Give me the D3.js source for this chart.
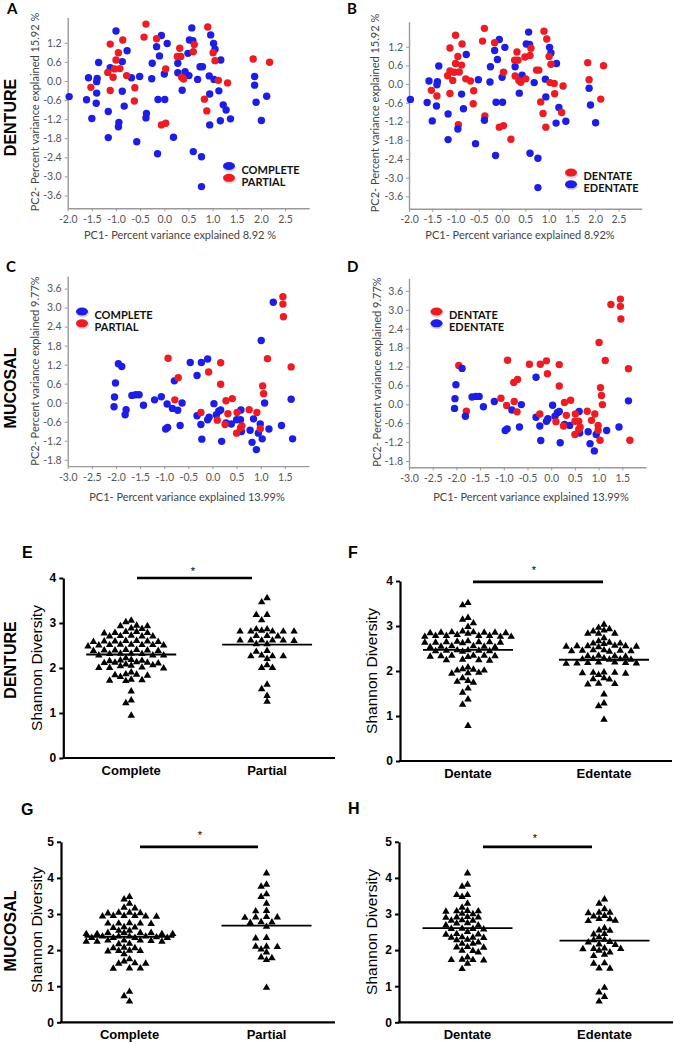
<!DOCTYPE html>
<html><head><meta charset="utf-8">
<script src="https://cdn.jsdelivr.net/npm/d3@7"></script>
<style>body{margin:0;background:#fff;} svg{display:block;}</style>
</head><body>
<svg id="c" width="674" height="1044"></svg>
<script>
// ---------------- DATA ----------------
// Denture PCA (panels A, B): 68 complete-denture samples then 35 partial-denture samples
const denturePC1 = [
 -1.97,-1.00,0.57,-0.06,0.06,-0.16,-0.77,-0.87,-1.12,-1.36,
 -1.57,-1.39,-1.40,-1.61,-1.40,-1.41,-1.50,-1.16,-0.87,-0.83,
 -0.94,-0.95,-1.16,-0.68,-0.51,-0.26,-0.25,-0.10,-0.37,-0.38,
 -0.57,-0.13,0.01,0.00,-0.14,0.19,0.28,0.28,0.37,0.43,
 0.51,0.49,0.52,0.59,0.69,0.74,0.79,0.96,1.02,1.05,
 1.17,0.93,1.03,0.94,1.13,1.22,1.28,1.16,1.37,0.94,
 0.60,0.77,0.77,1.87,1.87,1.90,2.12,2.01,
 -0.38,-0.42,-0.16,0.90,-1.12,-0.86,-0.95,-1.00,-0.92,-1.03,
 -1.17,-1.06,-0.78,-1.52,-1.12,-0.61,-0.62,0.03,0.32,0.27,
 0.34,0.36,0.40,0.62,0.60,1.01,1.05,1.12,1.31,0.83,
 0.88,-0.06,0.03,1.84,2.18];
const denturePC2 = [
 -0.49,1.57,1.67,1.43,1.18,1.08,0.95,0.61,0.42,0.58,
 0.10,0.08,-0.02,-0.59,-0.38,-0.70,-1.18,-0.96,-0.32,-0.79,
 -1.30,-1.44,-1.78,0.10,0.14,0.07,0.56,0.79,-1.02,-1.16,
 -1.91,-0.58,-0.58,0.22,-2.29,-1.77,0.56,0.26,-0.29,0.29,
 0.17,0.87,1.29,1.27,0.05,0.45,0.45,1.45,1.18,1.00,
 0.66,0.16,0.05,-0.41,-0.31,-0.75,-0.91,-1.25,-1.19,-1.38,
 -2.22,-2.38,-3.32,0.14,-0.13,-0.67,-0.48,-1.24,
 1.79,1.38,1.33,1.70,1.16,1.29,0.89,0.66,0.39,0.38,
 0.27,0.12,0.17,-0.20,-0.30,-0.21,-0.63,0.38,1.03,0.77,
 0.77,0.12,0.06,1.15,0.92,0.89,0.64,0.02,-0.06,-0.57,
 -0.94,-1.38,-1.33,0.69,0.59];
const dentureType = [
 "CCCCCCCCCC","CCCCCCCCCC","CCCCCCCCCC","CCCCCCCCCC","CCCCCCCCCC","CCCCCCCCCC","CCCCCCCC",
 "PPPPPPPPPP","PPPPPPPPPP","PPPPPPPPPP","PPPPP"].join("").split("");
const dentureStatus = [
 "EDEEEEEDDE","EEEEDEEEEE","DEEDEEEEDE","EEEEEDEDEE","DDEEEDDDEE","EEDEDEDEED","EEEDEEDE",
 "DDDDDDDDDD","DDDDDDDDDD","DDDDDDDDDD","DDDDD"].join("").split("");

// Mucosal PCA (panels C, D): 55 complete then 26 partial
const mucosalPC1 = [
 -2.03,-2.04,-2.01,-1.95,-1.88,-1.79,-1.81,-1.67,-1.59,-1.52,
 -1.43,-1.20,-1.06,-0.94,-0.83,-0.72,-0.63,-0.79,-0.97,-0.93,
 -0.67,-0.46,-0.32,-0.23,-0.10,-0.32,-0.24,-0.22,-0.10,-0.07,
 0.03,0.08,0.13,0.17,0.19,0.28,0.39,0.50,0.59,0.58,
 0.60,0.78,0.85,0.82,0.91,0.95,0.99,1.03,1.01,1.08,
 1.17,1.43,1.63,1.66,1.26,
 1.46,1.46,1.47,-0.92,-0.71,-0.78,-0.08,0.17,0.17,-0.24,
 0.10,0.28,0.41,0.32,0.26,0.51,0.58,0.61,0.50,0.76,
 0.92,1.04,1.06,0.99,1.14,1.63];
const mucosalPC2 = [
 0.18,-0.13,0.62,1.23,1.14,-0.22,-0.38,0.23,0.25,0.25,
 -0.08,0.09,0.19,-0.04,-0.18,-0.24,-0.01,0.69,-0.83,-0.78,
 -0.72,1.27,0.86,1.27,1.38,-0.41,-0.69,-1.15,-0.54,-0.46,
 -0.03,-0.38,-0.27,-0.23,-1.22,-0.64,-0.67,-0.54,-0.23,-0.54,
 -0.91,-0.87,-0.51,-1.25,-1.48,-0.96,-0.67,-1.14,1.96,-0.01,
 -0.83,-0.72,0.11,-1.14,3.17,
 3.34,3.11,2.71,1.40,0.79,0.09,0.97,1.26,0.58,-0.31,
 -0.55,0.06,0.13,-0.35,-0.69,-0.31,-0.80,-0.73,-0.96,-0.22,
 -0.31,0.53,0.28,-0.82,1.39,1.13];
const mucosalType = [
 "CCCCCCCCCC","CCCCCCCCCC","CCCCCCCCCC","CCCCCCCCCC","CCCCCCCCCC","CCCCC",
 "PPPPPPPPPP","PPPPPPPPPP","PPPPPP"].join("").split("");
const mucosalStatus = [
 "EEEDEDEEEE","EEDDEDEDEE","EDEDDEEEEE","EEEEEEEDED","EEDEEEDDDD","EEEDD",
 "DDDDDDDDDD","DDDDDDDDDD","DDDDDD"].join("").split("");

const dentureXTicks = [-2.0,-1.5,-1.0,-0.5,0.0,0.5,1.0,1.5,2.0,2.5];
const dentureYTicks = [-3.6,-3.0,-2.4,-1.8,-1.2,-0.6,0.0,0.6,1.2];
const mucosalXTicks = [-3.0,-2.5,-2.0,-1.5,-1.0,-0.5,0.0,0.5,1.0,1.5];
const mucosalYTicks = [-1.8,-1.2,-0.6,0.0,0.6,1.2,1.8,2.4,3.0,3.6];

// Shannon diversity (panels E-H)
const dentureComplete = [2.96,2.95,3.07,2.90,2.89,2.95,3.04,
 2.72,2.80,2.74,2.82,2.72,2.80,2.73,2.82,2.72,2.79,
 2.60,2.52,2.61,2.53,2.62,2.54,2.61,2.53,2.62,2.54,2.61,2.53,2.60,2.52,2.50,
 2.30,2.42,2.34,2.41,2.33,2.42,2.30,2.40,2.33,2.41,2.34,2.41,2.30,2.40,2.24,
 2.15,2.18,2.12,2.20,2.14,2.17,2.13,2.19,2.14,
 2.08,2.02,2.07,2.01,2.06,2.02,2.10,2.03,
 1.87,1.86,1.82,1.85,1.88,1.92,1.75,1.74,1.76,1.73,1.50,1.30,1.24,0.96];
const denturePartial = [3.57,3.48,3.20,3.20,3.08,2.88,2.83,2.83,2.83,2.83,2.83,2.85,2.88,
 2.73,2.73,2.72,2.63,2.63,2.62,2.63,2.63,2.63,2.55,2.55,2.40,2.38,2.28,2.28,2.28,2.30,2.22,
 2.08,2.02,2.02,1.65,1.55,1.40,1.27];
const dentureDentate = [3.53,3.48,3.20,3.16,3.08,3.00,2.87,2.88,2.86,2.90,2.87,2.86,2.88,2.87,2.85,
 2.80,2.80,2.78,2.80,2.82,2.78,2.80,2.78,2.66,2.65,2.67,2.65,2.68,2.66,2.64,2.65,2.66,
 2.56,2.55,2.57,2.55,2.57,2.56,2.46,2.48,2.47,2.45,2.47,2.48,2.46,
 2.35,2.36,2.34,2.36,2.35,2.33,2.36,2.26,2.25,2.27,2.26,
 2.06,1.98,2.10,2.03,2.03,2.05,1.96,1.97,1.86,1.78,1.80,1.76,1.63,1.54,1.39,1.27,0.80];
const dentureEdentate = [3.05,2.98,2.92,2.90,2.95,2.85,2.85,2.85,2.75,2.68,2.65,2.63,2.63,2.62,
 2.57,2.57,2.56,2.57,2.56,2.58,2.55,2.47,2.46,2.48,2.47,2.46,2.48,2.45,
 2.35,2.30,2.36,2.34,2.35,2.28,2.27,2.29,2.28,2.27,2.20,2.19,2.21,2.20,2.19,2.21,2.18,
 1.98,1.93,1.99,1.97,1.98,1.96,1.86,1.84,1.83,1.73,1.72,1.74,1.50,1.30,1.24,0.94];
const mucosalComplete = [3.50,3.43,3.31,3.20,3.18,3.06,3.05,3.06,3.04,2.97,2.96,2.97,2.95,2.96,2.97,
 2.76,2.76,2.75,2.77,2.76,2.65,2.66,2.64,2.56,2.56,2.50,2.47,2.50,2.47,2.50,2.47,2.50,2.47,
 2.40,2.36,2.40,2.36,2.40,2.36,2.40,2.36,2.38,2.29,2.26,2.29,2.26,2.29,2.26,2.28,2.19,2.20,
 2.08,2.09,2.08,2.00,2.01,1.99,2.00,1.91,1.77,1.65,1.65,1.66,1.71,1.52,1.51,1.52,0.87,0.75,0.60];
const mucosalPartial = [4.15,3.84,3.78,3.57,3.50,3.31,3.11,3.10,2.93,2.94,2.92,2.93,2.80,2.79,2.78,
 2.67,2.36,2.35,2.12,2.11,2.12,2.04,1.96,1.82,1.80,1.75,0.98];
const mucosalDentate = [4.15,3.84,3.78,3.55,3.55,3.50,3.31,3.20,3.10,3.10,3.11,3.09,3.03,3.02,
 2.93,2.93,2.94,2.92,2.84,2.85,2.84,2.76,2.77,2.71,2.71,2.61,2.62,2.60,2.61,2.53,2.46,2.47,2.45,
 2.37,2.38,2.36,2.37,2.30,2.31,2.24,2.20,2.20,2.10,2.11,2.09,2.00,2.01,1.96,1.82,1.75,1.76,1.74,1.75,1.65,1.50];
const mucosalEdentate = [3.43,3.31,3.16,3.06,3.05,3.06,2.97,2.96,2.88,2.89,2.84,2.83,2.63,2.56,2.57,
 2.47,2.46,2.38,2.31,2.30,2.24,2.25,2.17,2.18,2.06,2.07,2.05,2.06,2.01,1.90,1.86,1.96,1.65,1.66,
 1.52,1.51,0.98,0.85,0.73,0.60];
// central lines
const centralLines = {E:[2.30,2.52], F:[2.47,2.25], G:[2.37,2.68], H:[2.61,2.26]};
const prosthesisCats = ["Complete","Partial"];
const statusCats = ["Dentate","Edentate"];
const shannonTicks4 = [0,1,2,3,4];
const shannonTicks5 = [0,1,2,3,4,5];

// ---------------- DRAW ----------------
const BLUE = "#1d1de3", RED = "#ec1c24";
const svg = d3.select("#c");
const ARIAL = "'Liberation Sans', Arial, sans-serif";
const CAL = "Lato, 'Open Sans', sans-serif";

function drawPCA(p){
  const g = svg.append("g");
  const x = d3.scaleLinear().domain(p.xDomain).range(p.xRange);
  const y = d3.scaleLinear().domain(p.yDomain).range(p.yRange);
  const fmt = d => d.toFixed(1);
  const gx = g.append("g").attr("transform",`translate(0,${p.yRange[0]})`)
    .call(d3.axisBottom(x).tickValues(p.xTicks).tickFormat(fmt).tickSize(3).tickSizeOuter(0).tickPadding(4));
  const gy = g.append("g").attr("transform",`translate(${p.xRange[0]},0)`)
    .call(d3.axisLeft(y).tickValues(p.yTicks).tickFormat(fmt).tickSize(3).tickSizeOuter(0).tickPadding(3));
  [gx,gy].forEach(a=>{
    a.select(".domain").attr("stroke","#9a9a9a").attr("stroke-width",1.4);
    a.selectAll(".tick line").attr("stroke","#9a9a9a");
    a.selectAll("text").attr("fill","#555").style("font-family",CAL).style("font-size","10.5px");
  });
  const idx = d3.range(p.pc1.length);
  g.append("g").selectAll("circle").data(idx).join("circle")
    .attr("cx",i=>x(p.pc1[i])).attr("cy",i=>y(p.pc2[i])).attr("r",3.7)
    .attr("fill",i=>p.colors[p.groups[i]]);
  g.append("text").attr("x",p.xTitle[0]).attr("y",p.xTitle[1]).attr("text-anchor","middle")
    .style("font-family",CAL).style("font-size","11px").attr("fill","#444").text(p.xLabel);
  g.append("text").attr("transform",`translate(${p.yTitle[0]},${p.yTitle[1]}) rotate(-90)`).attr("text-anchor","middle")
    .style("font-family",CAL).style("font-size","11px").attr("fill","#444").text(p.yLabel);
  p.legend.forEach((l,i)=>{
    const cx = p.legendPos[0], cy = p.legendPos[1] + i*11.8;
    g.append("ellipse").attr("cx",cx+0.5).attr("cy",cy+1.8).attr("rx",6.5).attr("ry",4.2).attr("fill","#c8c8c8").attr("opacity",0.7);
    g.append("ellipse").attr("cx",cx).attr("cy",cy).attr("rx",6).attr("ry",4).attr("fill",p.colors[l[1]]);
    g.append("text").attr("x",cx+12.5).attr("y",cy+7.8).style("font-family",CAL).style("font-weight","bold")
      .style("font-size","11px").attr("fill","#111").text(l[0]);
  });
  g.append("text").attr("x",p.letter[0]).attr("y",p.letter[1]).style("font-family",CAL).style("font-weight","bold")
    .style("font-size","15px").attr("fill","#000").text(p.id);
}

// Prism-like column scatter: slots every half symbol width; neighbours in adjacent slots
// may share a row only if their heights differ a little.
function swarmX(vals, cx, y){
  const order = d3.range(vals.length).sort((a,b)=>vals[b]-vals[a]);
  const placed = []; const out = new Array(vals.length);
  const step = 5.4;
  order.forEach(i=>{
    const py = y(vals[i]);
    for(let k=0;k<60;k++){
      const off = (k%2===0?1:-1)*Math.ceil(k/2)*step;
      const px = cx+off;
      const hit = placed.some(q=>{
        const adx = Math.abs(q[0]-px), ady = Math.abs(q[1]-py);
        return (adx < 2 && ady < 5.5) || (adx < 7 && ady < 1.3);
      });
      if(!hit){ placed.push([px,py]); out[i]=px; break; }
    }
  });
  return out;
}

function drawSwarm(p){
  const g = svg.append("g");
  const x = d3.scalePoint().domain(p.cats).range([p.axisX,p.xEnd]).padding(0.5);
  const y = d3.scaleLinear().domain([0,p.yMax]).range([p.y0,p.yTop]);
  const ga = g.append("g").attr("transform",`translate(${p.axisX},0)`)
    .call(d3.axisLeft(y).tickValues(p.ticks).tickFormat(d3.format("d")).tickSize(4).tickSizeOuter(0).tickPadding(3));
  ga.select(".domain").attr("stroke","#000").attr("stroke-width",2.2);
  ga.selectAll(".tick line").attr("stroke","#000").attr("stroke-width",2);
  ga.selectAll("text").attr("fill","#000").style("font-family",ARIAL).style("font-weight","bold").style("font-size","12px");
  g.append("line").attr("x1",p.axisX-1).attr("x2",p.xEnd).attr("y1",p.y0).attr("y2",p.y0).attr("stroke","#000").attr("stroke-width",2.2);
  p.cats.forEach((c,ci)=>{
    g.append("text").attr("x",x(c)).attr("y",p.catY).attr("text-anchor","middle").style("font-family",ARIAL)
      .style("font-weight","bold").style("font-size","13px").attr("fill","#000").text(c);
    const vals = p.values[ci];
    const xs = swarmX(vals, x(c), y);
    g.append("g").selectAll("path").data(vals).join("path")
      .attr("d",d3.symbol(d3.symbolTriangle,24)())
      .attr("transform",(d,i)=>`translate(${xs[i]},${y(d)+0.8})`).attr("fill","#000");
    g.append("line").attr("x1",x(c)-45).attr("x2",x(c)+45).attr("y1",y(p.lines[ci])).attr("y2",y(p.lines[ci]))
      .attr("stroke","#000").attr("stroke-width",1.8);
  });
  g.append("line").attr("x1",p.bar[0]).attr("x2",p.bar[1]).attr("y1",y(p.bar[2])).attr("y2",y(p.bar[2]))
    .attr("stroke","#000").attr("stroke-width",2.6);
  g.append("text").attr("x",p.star[0]).attr("y",p.star[1]+6).attr("text-anchor","middle").style("font-family",ARIAL)
    .style("font-size","11px").attr("fill","#000").text("*");
  g.append("text").attr("transform",`translate(${p.yTitle[0]},${p.yTitle[1]}) rotate(-90)`).attr("text-anchor","middle")
    .style("font-family",ARIAL).style("font-size","15.5px").attr("fill","#000").text("Shannon Diversity");
  g.append("text").attr("x",p.letter[0]).attr("y",p.letter[1]).style("font-family",ARIAL).style("font-weight","bold")
    .style("font-size","16px").attr("fill","#000").text(p.id);
}

drawPCA({id:"A", pc1:denturePC1, pc2:denturePC2, groups:dentureType, colors:{C:BLUE,P:RED},
  legend:[["COMPLETE","C"],["PARTIAL","P"]], xDomain:[-2,3], yDomain:[-4,2], xRange:[67.7,309.2], yRange:[208.2,17.4],
  xTicks:dentureXTicks, yTicks:dentureYTicks, xLabel:"PC1- Percent variance explained 8.92 %",
  yLabel:"PC2- Percent variance explained 15.92 %", xTitle:[180,239], yTitle:[38.5,112], legendPos:[229,166], letter:[7,14]});
drawPCA({id:"B", pc1:denturePC1, pc2:denturePC2, groups:dentureStatus, colors:{D:RED,E:BLUE},
  legend:[["DENTATE","D"],["EDENTATE","E"]], xDomain:[-2,3], yDomain:[-4,2], xRange:[409,641.7], yRange:[208.8,21.8],
  xTicks:dentureXTicks, yTicks:dentureYTicks, xLabel:"PC1- Percent variance explained 8.92%",
  yLabel:"PC2- Percent variance explained 15.92 %", xTitle:[520,239], yTitle:[379,113], legendPos:[571,172.5], letter:[347,14]});
drawPCA({id:"C", pc1:mucosalPC1, pc2:mucosalPC2, groups:mucosalType, colors:{C:BLUE,P:RED},
  legend:[["COMPLETE","C"],["PARTIAL","P"]], xDomain:[-3,2], yDomain:[-2,4], xRange:[67.7,309], yRange:[466.1,275.9],
  xTicks:mucosalXTicks, yTicks:mucosalYTicks, xLabel:"PC1- Percent variance explained 13.99%",
  yLabel:"PC2- Percent variance explained 9.77%", xTitle:[187,501], yTitle:[38.5,371], legendPos:[82,311.5], letter:[6,272]});
drawPCA({id:"D", pc1:mucosalPC1, pc2:mucosalPC2, groups:mucosalStatus, colors:{D:RED,E:BLUE},
  legend:[["DENTATE","D"],["EDENTATE","E"]], xDomain:[-3,2], yDomain:[-2,4], xRange:[409,646], yRange:[467.3,278.3],
  xTicks:mucosalXTicks, yTicks:mucosalYTicks, xLabel:"PC1- Percent variance explained 13.99%",
  yLabel:"PC2- Percent variance explained 9.77%", xTitle:[531,501], yTitle:[380.5,372], legendPos:[436.5,311.5], letter:[347,272]});

drawSwarm({id:"E", cats:prosthesisCats, values:[dentureComplete,denturePartial], lines:centralLines.E,
  axisX:63.3, xEnd:335, y0:758, yTop:578, yMax:4, ticks:shannonTicks4, catY:775, bar:[137,252,4.0], star:[193,569],
  yTitle:[42,668], letter:[22,558]});
drawSwarm({id:"F", cats:statusCats, values:[dentureDentate,dentureEdentate], lines:centralLines.F,
  axisX:400, xEnd:672, y0:761, yTop:581, yMax:4, ticks:shannonTicks4, catY:778, bar:[473,603,3.98], star:[534,568],
  yTitle:[377,671], letter:[348,558]});
drawSwarm({id:"G", cats:prosthesisCats, values:[mucosalComplete,mucosalPartial], lines:centralLines.G,
  axisX:61, xEnd:335, y0:1022.3, yTop:841.8, yMax:5, ticks:shannonTicks5, catY:1039, bar:[140,258,4.86], star:[200,833],
  yTitle:[42,930], letter:[21,815]});
drawSwarm({id:"H", cats:statusCats, values:[mucosalDentate,mucosalEdentate], lines:centralLines.H,
  axisX:399, xEnd:673, y0:1022.3, yTop:841.8, yMax:5, ticks:shannonTicks5, catY:1039, bar:[483,592,4.86], star:[535,836],
  yTitle:[377,932], letter:[348,814]});

// row labels
[["DENTURE",117.5],["MUCOSAL",388],["DENTURE",660],["MUCOSAL",931]].forEach(r=>{
  svg.append("text").attr("transform",`translate(16,${r[1]}) rotate(-90)`).attr("text-anchor","middle")
    .style("font-family",ARIAL).style("font-weight","bold").style("font-size","16px").attr("fill","#000").text(r[0]);
});
</script>
</body></html>
